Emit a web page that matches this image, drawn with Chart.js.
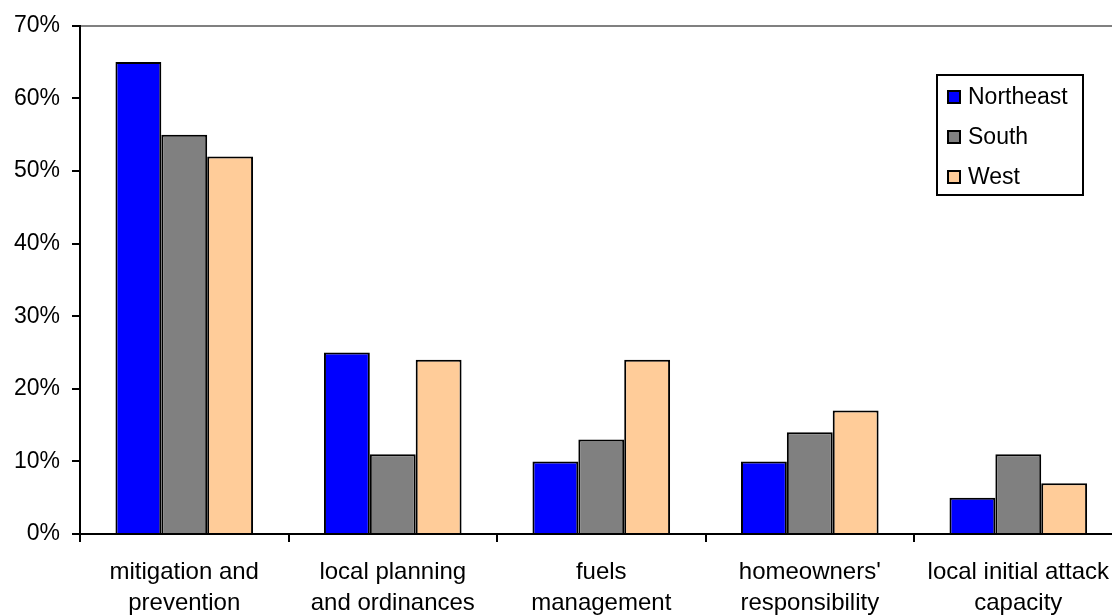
<!DOCTYPE html>
<html>
<head>
<meta charset="utf-8">
<script src="https://cdn.jsdelivr.net/npm/chart.js@4/dist/chart.umd.min.js"></script>
<style>
  html, body { margin: 0; padding: 0; background: #fff; overflow: hidden; }
  #grafico { display: block; }
</style>
</head>
<body>
<canvas id="grafico" width="1124" height="615"></canvas>
<script>
// ===================== DADOS =====================
const categorias = [
    ["mitigation and", "prevention"],
    ["local planning", "and ordinances"],
    ["fuels", "management"],
    ["homeowners'", "responsibility"],
    ["local initial attack", "capacity"]
];
const nordeste = [65, 25, 10, 10, 5];
const sul = [55, 11, 13, 14, 11];
const oeste = [52, 24, 24, 17, 7];
const nomesSeries = ["Northeast", "South", "West"];
const coresSeries = ["#0000ff", "#808080", "#ffcc99"];
const ticksY = [0, 10, 20, 30, 40, 50, 60, 70];

const FONTE = "'Liberation Sans', Arial, sans-serif";

// legenda desenhada dentro da área do gráfico
const legendaInterna = {
    id: 'legendaInterna',
    afterDraw(chart) {
        const ctx = chart.ctx;
        const x = 937, y = 75, w = 146, h = 120;
        ctx.save();
        ctx.fillStyle = '#fff';
        ctx.fillRect(x, y, w, h);
        ctx.strokeStyle = '#000';
        ctx.lineWidth = 2;
        ctx.strokeRect(x, y, w, h);
        ctx.font = '23px ' + FONTE;
        ctx.textBaseline = 'middle';
        chart.data.datasets.forEach((ds, i) => {
            const cy = 97 + i * 40;
            ctx.fillStyle = ds.backgroundColor;
            ctx.fillRect(948, cy - 6, 12, 12);
            ctx.lineWidth = 2;
            ctx.strokeRect(948, cy - 6, 12, 12);
            ctx.fillStyle = '#000';
            ctx.fillText(ds.label, 968, cy + 1);
        });
        ctx.restore();
    }
};

const series = [nordeste, sul, oeste];

new Chart(document.getElementById('grafico').getContext('2d'), {
    type: 'bar',
    data: {
        labels: categorias,
        datasets: series.map((valores, i) => ({
            label: nomesSeries[i],
            data: valores,
            backgroundColor: coresSeries[i],
            borderColor: '#000',
            borderWidth: 2,
            categoryPercentage: 0.66,
            barPercentage: 1.0
        }))
    },
    options: {
        responsive: false,
        devicePixelRatio: 1,
        animation: false,
        layout: { padding: { top: 23, right: 0, left: 0, bottom: 0 } },
        plugins: {
            legend: { display: false },
            tooltip: { enabled: false }
        },
        scales: {
            x: {
                grid: {
                    offset: true,
                    color: 'transparent',
                    tickColor: '#000',
                    tickLength: 8,
                    lineWidth: 2
                },
                border: { color: '#000', width: 2 },
                ticks: {
                    color: '#000',
                    font: { family: FONTE, size: 24, lineHeight: 1.3 },
                    padding: 15,
                    maxRotation: 0,
                    autoSkip: false
                },
                afterFit(scale) { scale.height = 81; }
            },
            y: {
                min: 0,
                max: 70,
                afterBuildTicks(scale) { scale.ticks = ticksY.map(v => ({ value: v })); },
                grid: {
                    color: c => (c.tick && c.tick.value === 70 ? '#808080' : 'transparent'),
                    tickColor: '#000',
                    tickLength: 8,
                    lineWidth: 2
                },
                border: { color: '#000', width: 2 },
                ticks: {
                    color: '#000',
                    font: { family: FONTE, size: 23 },
                    padding: 12,
                    callback: v => v + '%'
                },
                afterFit(scale) { scale.width = 80; }
            }
        }
    },
    plugins: [legendaInterna]
});
</script>
</body>
</html>
